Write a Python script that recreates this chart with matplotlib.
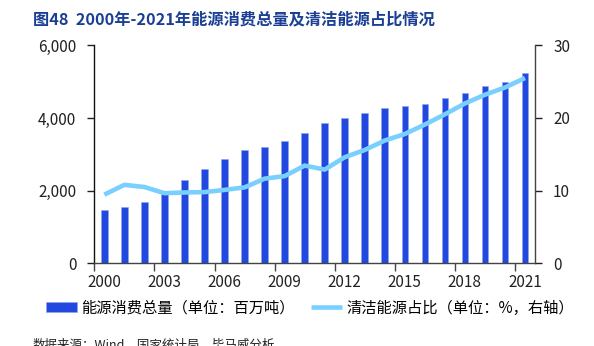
import numpy as np
import matplotlib
matplotlib.use('Agg')
import matplotlib.pyplot as plt

plt.rcParams['font.family'] = ['Noto Sans CJK SC', 'DejaVu Sans']

# data
years = list(range(2000, 2022))
energy_total = [1470, 1555, 1696, 1971, 2290, 2600, 2868, 3112, 3190, 3360,
                3600, 3872, 4012, 4150, 4285, 4320, 4390, 4560, 4700, 4872,
                4983, 5225]
clean_share = [9.45, 10.8, 10.5, 9.65, 9.75, 9.8, 10.1, 10.45, 11.65, 12.0,
               13.45, 12.9, 14.6, 15.6, 16.9, 17.8, 19.1, 20.5, 22.0, 23.2,
               24.2, 25.5]
tick_years = [2000, 2003, 2006, 2009, 2012, 2015, 2018, 2021]

bar_color = '#2149E0'
line_color = '#79D0FF'

fig = plt.figure(figsize=(5.94, 3.46), dpi=100)
ax = fig.add_axes([0.1588, 0.239, 0.9007 - 0.1588, 0.869 - 0.239])
ax2 = ax.twinx()

x = np.arange(len(years))
b = ax.bar(x, energy_total, width=0.33, color=bar_color, edgecolor='#8fa6f0',
           linewidth=0.4, label='能源消费总量（单位：百万吨）', zorder=2)
l, = ax2.plot(x, clean_share, color=line_color, lw=3.3,
              label='清洁能源占比（单位：%，右轴）', solid_capstyle='butt')

ax.set_xlim(-0.5, len(years) - 0.5)
ax.set_ylim(0, 6000)
ax2.set_ylim(0, 30)
ax.set_yticks([0, 2000, 4000, 6000])
ax.set_yticklabels(['0', '2,000', '4,000', '6,000'])
ax2.set_yticks([0, 10, 20, 30])

# ticks on category boundaries, labels under the bars
ax.set_xticks([years.index(y) - 0.5 for y in tick_years])
ax.set_xticklabels([])
ax.set_xticks([years.index(y) for y in tick_years], minor=True)
ax.set_xticklabels([str(y) for y in tick_years], minor=True)
ax.tick_params(axis='x', which='minor', length=0, pad=8, labelsize=11, colors='#222222')
ax.tick_params(axis='x', which='major', length=6, width=1.0, direction='out', color='#444444')
ax.tick_params(axis='y', length=5, width=1.0, pad=8, labelsize=11, colors='#222222')
ax2.tick_params(axis='y', length=5, width=1.0, pad=8, labelsize=11, colors='#222222')

for a in (ax, ax2):
    a.spines['top'].set_visible(False)
ax.spines['right'].set_visible(False)
ax2.spines['left'].set_visible(False)
ax2.spines['bottom'].set_visible(False)
ax.spines['left'].set_color('#111111')
ax.spines['bottom'].set_color('#444444')
ax2.spines['right'].set_color('#444444')
for s in ('left', 'bottom'):
    ax.spines[s].set_linewidth(1.0)
ax2.spines['right'].set_linewidth(1.0)

fig.text(0.056, 1 - 19 / 346, '图48  2000年-2021年能源消费总量及清洁能源占比情况',
         fontsize=11.7, fontweight='bold', color='#1b3f94', va='center', ha='left')

fig.legend([b, l], [b.get_label(), l.get_label()], loc='center',
           bbox_to_anchor=(0.522, 1 - 308 / 346), ncol=2, frameon=False,
           fontsize=11, handlelength=2.0, handleheight=0.55, handletextpad=0.3,
           columnspacing=1.1, borderpad=0)

# source line, cut at the bottom edge as in the reference
fig.text(0.054, 1 - 339 / 346, '数据来源：Wind，国家统计局，毕马威分析',
         fontsize=9, color='#222222', va='top', ha='left')

fig.savefig('out.png', dpi=100)
